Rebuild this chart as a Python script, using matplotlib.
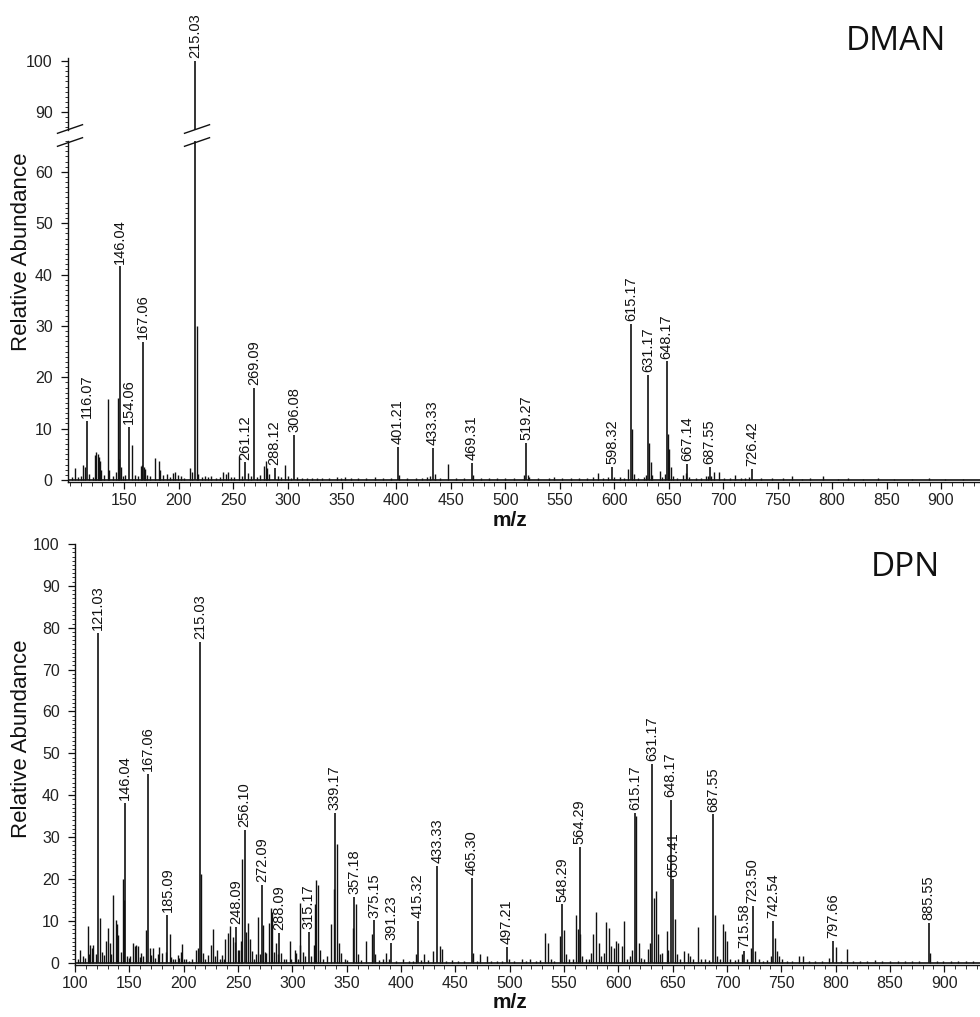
import matplotlib
matplotlib.use("Agg")
import matplotlib.pyplot as plt
from matplotlib.ticker import MultipleLocator
from matplotlib.lines import Line2D

# ---------------- DMAN spectrum ----------------
dman_mz = [116.07, 146.04, 154.06, 167.06, 215.03, 261.12, 269.09, 288.12, 306.08,
           401.21, 433.33, 469.31, 519.27, 598.32, 615.17, 631.17, 648.17, 667.14,
           687.55, 726.42]
dman_int = [11.5, 41.6, 10.4, 26.9, 100.0, 3.4, 17.9, 2.3, 8.8,
            6.4, 6.3, 3.3, 7.2, 2.6, 30.4, 20.4, 23.1, 3.1,
            2.6, 2.2]
dman_minor_mz = [102.0, 104.5, 108.0, 110.5, 112.5, 114.0, 118.0, 121.0, 123.5, 124.5,
                 125.5, 126.5, 127.5, 129.0, 131.5, 134.7, 136.0, 140.0, 142.5, 144.5,
                 145.2, 147.3, 149.0, 151.0, 157.0, 159.5, 162.5, 165.0, 166.2, 168.3,
                 169.5, 171.0, 174.0, 178.4, 181.5, 183.0, 186.0, 189.0, 192.0, 195.0,
                 197.0, 199.0, 202.0, 205.0, 210.5, 212.0, 216.5, 218.0, 221.0, 224.0,
                 226.5, 230.0, 234.0, 238.0, 241.0, 243.5, 245.5, 248.0, 251.0, 255.0,
                 258.5, 264.0, 266.0, 272.0, 275.0, 278.0, 280.0, 281.5, 283.0, 291.0,
                 294.0, 297.7, 300.0, 303.0, 309.0, 313.0, 318.0, 322.0, 327.0, 332.0,
                 338.0, 345.0, 349.0, 353.0, 358.0, 365.0, 372.0, 380.0, 388.0, 395.0,
                 402.5, 410.0, 418.0, 423.0, 428.0, 431.0, 435.0, 440.0, 447.5, 455.0,
                 462.0, 470.5, 478.0, 485.0, 492.0, 500.0, 508.0, 517.5, 520.5, 522.0,
                 530.0, 540.0, 545.0, 552.0, 560.0, 568.0, 575.0, 580.0, 585.5, 590.0,
                 594.0, 600.0, 605.0, 609.0, 612.5, 616.6, 618.0, 622.0, 627.0, 629.5,
                 632.2, 633.3, 635.0, 641.6, 644.0, 646.5, 649.4, 650.6, 652.0, 654.0,
                 658.0, 663.0, 665.5, 669.0, 675.0, 680.0, 684.0, 686.0, 689.0, 692.0,
                 696.0, 701.0, 706.0, 711.0, 716.0, 720.0, 723.5, 735.0, 745.0, 755.0,
                 763.5, 772.0, 780.0, 792.0, 805.0, 815.0, 828.0, 842.0, 857.0, 873.0,
                 889.0, 904.0, 920.0]
dman_minor_int = [0.6, 2.3, 0.5, 0.8, 2.9, 2.5, 1.2, 0.6, 4.8, 5.5,
                  5.0, 4.4, 3.6, 2.0, 1.0, 15.8, 2.0, 0.8, 1.5, 16.0,
                  4.0, 2.5, 0.7, 1.0, 6.8, 1.0, 0.8, 2.8, 3.0, 2.6,
                  2.2, 1.0, 0.8, 4.2, 3.6, 2.0, 1.0, 1.2, 0.6, 1.4,
                  1.5, 1.0, 0.8, 0.4, 2.3, 1.5, 29.9, 1.2, 0.5, 0.8,
                  0.6, 0.7, 0.4, 0.5, 1.5, 1.2, 1.5, 0.6, 0.5, 4.7,
                  0.8, 1.3, 0.8, 0.6, 1.0, 2.8, 3.6, 2.4, 1.2, 0.8,
                  0.6, 2.9, 0.7, 0.4, 0.5, 0.3, 0.4, 0.3, 0.4, 0.3,
                  0.4, 0.5, 0.3, 0.6, 0.3, 0.3, 0.4, 0.5, 0.3, 0.3,
                  1.0, 0.3, 0.4, 0.3, 0.5, 0.8, 1.2, 0.3, 3.1, 0.3,
                  0.4, 0.9, 0.3, 0.4, 0.3, 0.3, 0.4, 0.9, 1.0, 0.6,
                  0.3, 0.4, 0.5, 0.3, 0.4, 0.3, 0.3, 0.5, 1.3, 0.4,
                  0.6, 0.5, 0.6, 0.4, 2.2, 10.0, 1.2, 0.4, 0.5, 1.0,
                  7.2, 3.5, 1.0, 1.8, 0.6, 1.2, 8.9, 6.1, 2.5, 0.8,
                  0.3, 1.0, 1.4, 0.6, 0.4, 0.3, 0.8, 0.8, 0.8, 1.5,
                  1.5, 0.3, 0.3, 1.0, 0.3, 0.3, 0.5, 0.3, 0.3, 0.3,
                  0.7, 0.2, 0.3, 0.8, 0.2, 0.3, 0.2, 0.3, 0.2, 0.2,
                  0.3, 0.2, 0.2]

# ---------------- DPN spectrum ----------------
dpn_mz = [121.03, 146.04, 167.06, 185.09, 215.03, 248.09, 256.10, 272.09, 288.09,
          315.17, 339.17, 357.18, 375.15, 391.23, 415.32, 433.33, 465.30, 497.21,
          548.29, 564.29, 615.17, 631.17, 648.17, 650.41, 687.55, 715.58, 723.50,
          742.54, 797.66, 885.55]
dpn_int = [78.7, 38.2, 45.1, 11.4, 76.7, 8.6, 31.8, 18.6, 7.2,
           7.4, 35.8, 15.7, 10.1, 4.8, 10.0, 23.2, 20.3, 3.7,
           13.9, 27.6, 35.8, 47.5, 38.8, 19.9, 35.4, 2.8, 13.5,
           10.0, 5.3, 9.6]
dpn_minor_mz = [103.0, 105.0, 107.5, 109.0, 111.6, 113.0, 114.0, 116.0, 117.0, 119.0,
                123.2, 125.0, 126.5, 128.6, 130.1, 132.2, 133.5, 135.3, 137.7, 138.8,
                140.0, 142.0, 144.4, 145.0, 147.5, 149.5, 151.0, 153.5, 155.0, 156.5,
                158.0, 160.0, 161.0, 163.0, 165.0, 168.6, 170.0, 171.7, 174.0, 176.0,
                177.7, 180.0, 183.5, 187.0, 188.5, 190.5, 192.0, 194.4, 196.0, 197.4,
                198.3, 200.0, 202.0, 205.0, 208.0, 211.0, 213.0, 216.2, 218.0, 220.0,
                222.6, 225.3, 227.1, 229.0, 230.8, 233.0, 235.0, 237.0, 238.4, 240.8,
                242.9, 245.3, 247.0, 250.0, 251.0, 252.6, 254.1, 257.2, 259.0, 261.0,
                263.0, 265.0, 266.5, 268.0, 270.0, 273.2, 274.5, 276.0, 278.4, 280.2,
                281.7, 283.5, 285.4, 287.0, 290.0, 292.0, 294.5, 297.5, 299.0, 302.0,
                303.5, 305.0, 306.6, 307.5, 310.0, 312.0, 317.5, 320.0, 321.3, 322.0,
                323.9, 325.0, 328.0, 332.0, 336.0, 338.0, 340.8, 342.8, 345.0, 348.0,
                350.0, 355.5, 358.5, 360.0, 363.0, 368.0, 373.0, 376.5, 380.0, 383.0,
                386.0, 389.0, 395.0, 401.7, 407.0, 411.0, 414.0, 418.0, 421.6, 425.0,
                429.6, 435.5, 437.5, 441.0, 447.0, 452.0, 458.0, 466.6, 470.0, 473.0,
                479.0, 483.0, 488.0, 493.0, 499.0, 504.0, 511.0, 515.0, 519.0, 524.0,
                528.0, 532.3, 535.0, 538.0, 541.0, 546.0, 550.2, 552.0, 555.0, 558.0,
                561.0, 562.5, 565.0, 567.0, 570.0, 573.0, 575.0, 577.0, 579.7, 582.0,
                584.0, 587.0, 589.0, 591.0, 593.0, 595.6, 598.0, 600.0, 603.0, 605.6,
                608.0, 610.7, 613.0, 616.7, 619.0, 621.0, 624.0, 627.0, 628.7, 632.6,
                634.6, 636.6, 638.0, 640.0, 644.6, 646.0, 652.0, 654.0, 657.0, 660.5,
                663.7, 666.0, 669.0, 673.0, 676.0, 680.0, 683.0, 688.6, 691.0, 693.5,
                696.4, 698.4, 700.4, 703.0, 707.0, 710.0, 713.5, 718.0, 722.0, 726.0,
                729.0, 733.0, 737.0, 740.5, 744.0, 746.0, 748.0, 751.0, 755.0, 760.0,
                766.0, 770.0, 775.0, 781.0, 787.0, 794.0, 800.0, 805.0, 810.0, 816.0,
                822.0, 829.0, 836.0, 843.0, 850.0, 857.0, 864.0, 870.0, 877.0, 887.0,
                893.0, 899.0, 906.0, 913.0, 920.0, 926.0]
dpn_minor_int = [1.0, 3.0, 1.5, 1.2, 8.8, 2.0, 4.2, 3.5, 4.2, 2.0,
                 10.6, 2.5, 1.8, 5.3, 8.2, 4.6, 2.0, 16.2, 10.2, 9.2,
                 6.6, 2.6, 20.1, 15.0, 1.5, 1.2, 1.5, 4.8, 4.0, 4.2,
                 4.0, 1.4, 2.2, 1.6, 7.8, 3.4, 1.8, 3.6, 1.2, 2.0,
                 3.8, 2.2, 2.5, 6.8, 1.4, 1.0, 0.8, 1.8, 1.2, 2.6,
                 4.5, 0.8, 1.0, 0.5, 0.8, 3.0, 3.4, 21.2, 2.2, 0.8,
                 1.8, 4.2, 8.0, 1.5, 3.0, 0.8, 1.8, 1.0, 5.6, 7.0,
                 8.8, 6.2, 5.0, 3.0, 3.0, 5.3, 24.7, 7.4, 9.4, 5.6,
                 2.9, 1.0, 2.0, 11.0, 2.0, 9.0, 2.5, 2.2, 9.4, 13.1,
                 12.2, 2.5, 4.8, 2.0, 2.2, 1.0, 0.8, 5.3, 1.0, 3.0,
                 2.2, 1.0, 4.2, 14.3, 2.5, 1.5, 1.5, 4.2, 13.9, 19.7,
                 18.6, 3.0, 0.8, 1.6, 9.3, 17.5, 28.3, 4.8, 2.4, 0.8,
                 0.6, 8.4, 13.9, 2.0, 0.6, 5.2, 6.8, 2.0, 0.6, 0.8,
                 2.4, 1.0, 0.5, 0.8, 0.4, 0.5, 2.0, 0.6, 2.0, 0.6,
                 2.8, 4.0, 3.2, 0.5, 0.6, 0.4, 0.3, 2.4, 0.5, 2.0,
                 1.6, 0.4, 0.3, 0.5, 1.0, 0.4, 0.8, 0.5, 0.8, 0.4,
                 0.6, 7.2, 4.8, 0.8, 0.5, 6.4, 7.7, 2.0, 0.8, 1.0,
                 11.5, 8.0, 6.8, 1.5, 1.0, 0.8, 2.4, 6.8, 12.2, 4.8,
                 1.5, 2.4, 9.8, 8.4, 4.0, 3.6, 5.2, 4.8, 4.0, 10.0,
                 1.0, 1.6, 3.0, 35.0, 4.8, 1.2, 1.0, 3.2, 4.8, 15.5,
                 17.1, 6.8, 2.0, 2.4, 7.6, 3.0, 10.4, 2.0, 1.0, 2.8,
                 2.4, 1.5, 1.0, 8.5, 1.0, 0.8, 0.6, 11.5, 1.5, 1.0,
                 9.3, 7.6, 5.2, 1.0, 0.6, 0.8, 2.0, 1.0, 3.6, 2.8,
                 1.0, 0.5, 0.6, 1.5, 6.0, 2.8, 1.6, 0.8, 0.5, 0.4,
                 1.6, 1.6, 0.4, 0.4, 0.5, 1.2, 3.7, 0.4, 3.2, 0.3,
                 0.3, 0.4, 0.6, 0.4, 0.3, 0.5, 0.4, 0.3, 0.3, 2.4,
                 0.3, 0.4, 0.3, 0.4, 0.3, 0.3]

top_xticks = [150, 200, 250, 300, 350, 400, 450, 500, 550, 600, 650, 700, 750, 800, 850, 900]
bottom_xticks = [100] + top_xticks

plt.rcParams['font.family'] = ['Liberation Sans', 'DejaVu Sans']
W, H, DPI = 980, 1017, 100
fig = plt.figure(figsize=(W / DPI, H / DPI), dpi=DPI)


def px_box(left, top, right, bottom):
    return [left / W, 1 - bottom / H, (right - left) / W, (bottom - top) / H]


ax_hi = fig.add_axes(px_box(68, 58, 980, 130))
ax_lo = fig.add_axes(px_box(68, 141, 980, 482))
ax_b = fig.add_axes(px_box(75, 544, 980, 965))

ink = '#111111'
tick_kw = dict(direction='out', colors=ink, labelcolor='#222222', labelsize=11.5)


def style(ax, xlim, ylim, yticks, xticks, show_x=True):
    ax.set_xlim(*xlim)
    ax.set_ylim(*ylim)
    for s in ('top', 'right'):
        ax.spines[s].set_visible(False)
    for s in ('left', 'bottom'):
        ax.spines[s].set_linewidth(1.0)
        ax.spines[s].set_color(ink)
    ax.set_yticks(yticks)
    ax.yaxis.set_minor_locator(MultipleLocator(1))
    ax.tick_params(axis='y', which='major', length=5, width=0.9, pad=6, **tick_kw)
    ax.tick_params(axis='y', which='minor', length=2.5, width=0.6, colors=ink)
    if show_x:
        ax.set_xticks(xticks)
        ax.xaxis.set_minor_locator(MultipleLocator(10))
        ax.tick_params(axis='x', which='major', length=5, width=0.9, pad=3, **tick_kw)
        ax.tick_params(axis='x', which='minor', length=3, width=0.6, colors=ink)
    else:
        ax.spines['bottom'].set_visible(False)
        ax.set_xticks([])
        ax.xaxis.set_minor_locator(MultipleLocator(1000))
        ax.tick_params(axis='x', which='both', length=0)


def peaks(ax, mz, inten, lw=1.2):
    ax.vlines(mz, 0, inten, colors=ink, linewidth=lw)


def labels(ax, mz, inten, size=10.5):
    for m, h in zip(mz, inten):
        ax.annotate(f"{m:.2f}", (m, h), xytext=(0, 2), textcoords='offset points',
                    rotation=90, ha='center', va='bottom', fontsize=size,
                    color=ink, annotation_clip=False)


# top spectrum, drawn on a broken y axis
style(ax_hi, (98.4, 935.8), (86.5, 100.6), [90, 100], [], show_x=False)
style(ax_lo, (98.4, 935.8), (-0.4, 66.0), [0, 10, 20, 30, 40, 50, 60], top_xticks)
for ax in (ax_hi, ax_lo):
    peaks(ax, dman_minor_mz, dman_minor_int, lw=1.0)
    peaks(ax, dman_mz, dman_int)
    ax.axhline(0, color=ink, lw=1.2)
lo_mz = [m for m, h in zip(dman_mz, dman_int) if h < 66]
lo_h = [h for h in dman_int if h < 66]
hi_mz = [m for m, h in zip(dman_mz, dman_int) if h >= 66]
hi_h = [h for h in dman_int if h >= 66]
labels(ax_lo, lo_mz, lo_h)
labels(ax_hi, hi_mz, hi_h)

# bottom spectrum
style(ax_b, (100, 932.8), (-0.55, 100), list(range(0, 101, 10)), bottom_xticks)
peaks(ax_b, dpn_minor_mz, dpn_minor_int, lw=1.0)
peaks(ax_b, dpn_mz, dpn_int)
ax_b.axhline(0, color=ink, lw=1.2)
labels(ax_b, dpn_mz, dpn_int)

# axis-break slashes on the y axis and on the tallest peak
fig.canvas.draw()
to_fig = fig.transFigure.inverted()
peak_max = hi_mz[0]
for ax, yv in ((ax_hi, 86.5), (ax_lo, 66.0)):
    for xv in (ax.get_xlim()[0], peak_max):
        cx, cy = ax.transData.transform((xv, yv))
        cx += 2
        cy += 1 if ax is ax_hi else -1
        p0 = to_fig.transform((cx - 12.5, cy - 4.3))
        p1 = to_fig.transform((cx + 12.5, cy + 4.3))
        fig.add_artist(Line2D([p0[0], p1[0]], [p0[1], p1[1]], color=ink, lw=1.0))

# axis titles
ylab_kw = dict(rotation=90, ha='center', va='center', fontsize=16, color=ink)
fig.text(22 / W, 1 - 252 / H, 'Relative Abundance', **ylab_kw)
fig.text(22 / W, 1 - 739 / H, 'Relative Abundance', **ylab_kw)
xlab_kw = dict(ha='center', va='center', fontsize=15, fontweight='bold', color=ink)
fig.text(510 / W, 1 - 521 / H, 'm/z', **xlab_kw)
fig.text(510 / W, 1 - 1003 / H, 'm/z', **xlab_kw)

# sample names
name_kw = dict(ha='center', va='center', fontsize=24, color=ink, family=['Open Sans', 'DejaVu Sans'])
fig.text(896 / W, 1 - 42 / H, 'DMAN', **name_kw)
fig.text(905 / W, 1 - 567 / H, 'DPN', **name_kw)

fig.savefig('out.png', dpi=DPI)
